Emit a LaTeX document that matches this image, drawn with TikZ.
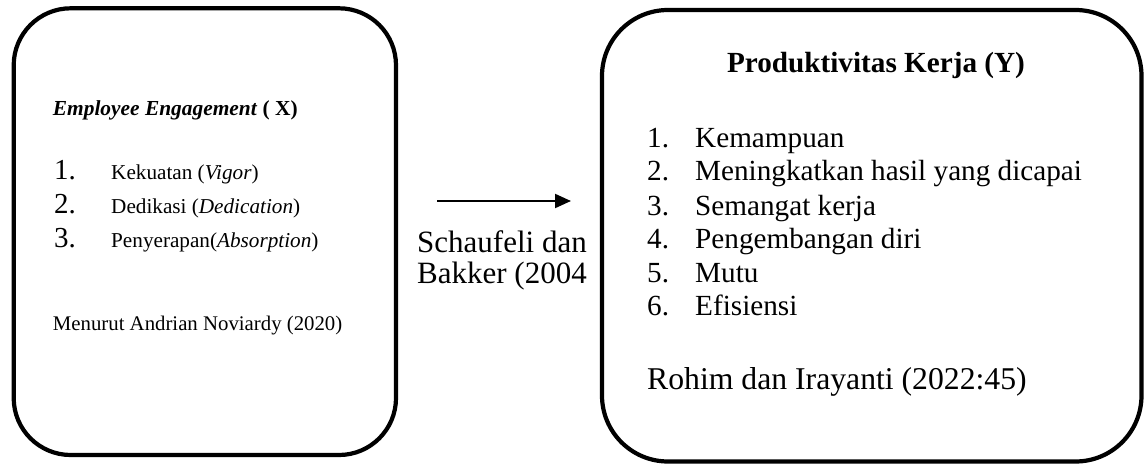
\documentclass[tikz,border=0pt]{standalone}
\usepackage{fontspec}
\setmainfont{Liberation Serif}
\usetikzlibrary{arrows.meta}
\tikzset{
  roundbox/.style={draw, line width=4.2pt, rounded corners=#1, inner sep=0pt},
  txt/.style={anchor=base west, inner sep=0pt, font=\fontsize{#1}{#1}\selectfont},
  ctxt/.style={anchor=base, inner sep=0pt, font=\fontsize{#1}{#1}\selectfont\bfseries},
  link/.style={line width=2pt, -{Triangle[length=16pt,width=14pt]}}
}
\begin{document}
\begin{tikzpicture}[x=1pt,y=-1pt]
\useasboundingbox (0,0) rectangle (1145,465);
% boxes
\node[roundbox=57pt, minimum width=382.3pt, minimum height=446.7pt] (boxX) at (204.85,231.65) {};
\node[roundbox=66pt, minimum width=539.5pt, minimum height=451.5pt] (boxY) at (871.75,235.75) {};
% left box text
\node[txt=21.4] (xtitle) at (52.7,116) {\textbf{\textit{Employee Engagement}} \textbf{( X)}};
\node[txt=29] (xn1) at (54,180) {1.};
\node[txt=29] (xn2) at (54,213) {2.};
\node[txt=29] (xn3) at (54,247) {3.};
\node[txt=21.2] (xi1) at (111,180) {Kekuatan (\textit{Vigor})};
\node[txt=21.2] (xi2) at (111,213) {Dedikasi (\textit{Dedication})};
\node[txt=21.2] (xi3) at (111,247) {Penyerapan(\textit{Absorption})};
\node[txt=20.8] (xsrc) at (52.7,330) {Menurut Andrian Noviardy (2020)};
% arrow and its label
\coordinate (a1) at (437,201);
\coordinate (a2) at (571,201);
\draw[link] (a1) -- (a2);
\node[txt=31] (lab1) at (417,252) {Schaufeli dan};
\node[txt=31] (lab2) at (417,283) {Bakker (2004};
% right box text
\node[ctxt=29.2] (ytitle) at (876,73) {Produktivitas Kerja (Y)};
\node[txt=29.2] (yn1) at (647,148) {1.};
\node[txt=29.2] (yn2) at (647,181) {2.};
\node[txt=29.2] (yn3) at (647,215) {3.};
\node[txt=29.2] (yn4) at (647,248) {4.};
\node[txt=29.2] (yn5) at (647,282) {5.};
\node[txt=29.2] (yn6) at (647,315) {6.};
\node[txt=29.2] (yi1) at (695,148) {Kemampuan};
\node[txt=29.2] (yi2) at (695,181) {Meningkatkan hasil yang dicapai};
\node[txt=29.2] (yi3) at (695,215) {Semangat kerja};
\node[txt=29.2] (yi4) at (695,248) {Pengembangan diri};
\node[txt=29.2] (yi5) at (695,282) {Mutu};
\node[txt=29.2] (yi6) at (695,315) {Efisiensi};
\node[txt=31.7] (ysrc) at (647,389) {Rohim dan Irayanti (2022:45)};
\end{tikzpicture}
\end{document}
